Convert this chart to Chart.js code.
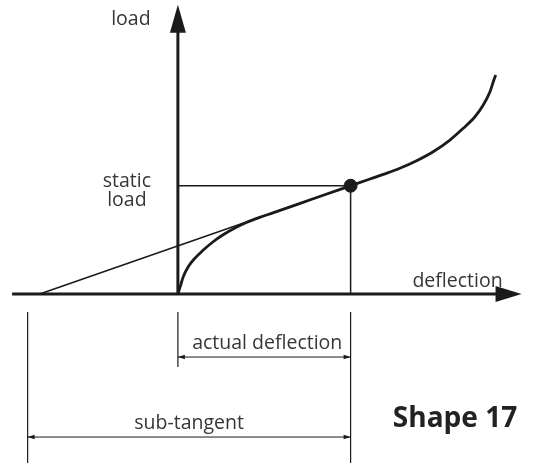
<!DOCTYPE html>
<html lang="en">
<head>
  <meta charset="UTF-8">
  <title>Shape 17 - load / deflection</title>
  <script src="https://cdn.jsdelivr.net/npm/chart.js"></script>
  <style>
    html, body {
      margin: 0;
      padding: 0;
      background: #ffffff;
    }
    #chart-container {
      width: 538px;
      height: 463px;
      position: relative;
    }
  </style>
</head>
<body>

  <div id="chart-container">
    <canvas id="shapeChart"></canvas>
  </div>

  <script>
    // load-deflection curve (deflection units, load units)
    const curveDeflection = [0, 0.16, 0.31, 0.6, 0.98, 1.47, 2.04, 2.62, 3.3, 4.0, 4.7, 5.5, 7, 8.5, 10, 11.12, 11.89, 12.85, 13.82, 14.78, 15.75, 16.52, 17.2, 17.68, 18.07, 18.26, 18.4];
    const curveLoad       = [0, 0.83, 1.6, 2.52, 3.3, 4.06, 4.83, 5.47, 6.1, 6.63, 7.06, 7.5, 8.33, 9.17, 10, 10.62, 11.05, 11.61, 12.31, 13.14, 14.22, 15.3, 16.37, 17.45, 18.68, 19.6, 20.22];

    // operating point
    const staticDeflection = 10;
    const staticLoad = 10;

    // tangent through the operating point meets the deflection axis here
    const tangentIntercept = -8;
    // where the sub-tangent dimension starts
    const subTangentStart = -8.7;

    // axis extents
    const xAxisStart = -9.6;
    const xAxisEnd = 19.9;
    const yAxisEnd = 26.7;

    // view window
    const xMin = -10.3, xMax = 20.85;
    const yMin = -15.6, yMax = 27.15;

    const labels = ['load', 'static', 'load', 'deflection', 'actual deflection', 'sub-tangent', 'Shape 17'];

    const INK = '#1b1b1b';
    const TEXT = '#363636';

    const curveData = curveDeflection.map((x, i) => ({ x: x, y: curveLoad[i] }));

    // arrows, dimension lines and labels, placed with the chart scales
    const annotations = {
      id: 'annotations',
      afterDatasetsDraw(chart) {
        const ctx = chart.ctx;
        const xs = chart.scales.x;
        const ys = chart.scales.y;
        const px = v => xs.getPixelForValue(v);
        const py = v => ys.getPixelForValue(v);

        ctx.save();
        ctx.fillStyle = INK;
        ctx.strokeStyle = INK;

        // axis arrowheads
        const ox = px(0), oy = py(0);
        const tipY = py(yAxisEnd);
        ctx.beginPath();
        ctx.moveTo(ox, tipY);
        ctx.lineTo(ox - 8, tipY + 28);
        ctx.lineTo(ox + 8, tipY + 28);
        ctx.closePath();
        ctx.fill();

        const tipX = px(xAxisEnd);
        ctx.beginPath();
        ctx.moveTo(tipX, oy);
        ctx.lineTo(tipX - 26, oy - 8);
        ctx.lineTo(tipX - 26, oy + 8);
        ctx.closePath();
        ctx.fill();

        // dimension extension lines
        const xSub = px(subTangentStart);
        const xZero = px(0);
        const xStat = px(staticDeflection);
        const extTop = oy + 18;
        const bottom = chart.height;
        ctx.lineWidth = 1.2;
        ctx.beginPath();
        ctx.moveTo(xSub, extTop); ctx.lineTo(xSub, bottom);
        ctx.moveTo(xStat, extTop); ctx.lineTo(xStat, bottom);
        ctx.moveTo(xZero, extTop); ctx.lineTo(xZero, oy + 73);
        ctx.stroke();

        function dimArrow(x1, x2, y) {
          ctx.lineWidth = 1;
          ctx.beginPath();
          ctx.moveTo(x1, y); ctx.lineTo(x2, y);
          ctx.stroke();
          ctx.beginPath();
          ctx.moveTo(x1, y); ctx.lineTo(x1 + 7, y - 2.2); ctx.lineTo(x1 + 7, y + 2.2);
          ctx.closePath();
          ctx.fill();
          ctx.beginPath();
          ctx.moveTo(x2, y); ctx.lineTo(x2 - 7, y - 2.2); ctx.lineTo(x2 - 7, y + 2.2);
          ctx.closePath();
          ctx.fill();
        }
        dimArrow(xZero, xStat, oy + 63);
        dimArrow(xSub, xStat, oy + 143);

        // labels
        ctx.fillStyle = TEXT;
        ctx.font = '19.5px "Open Sans", sans-serif';
        ctx.textBaseline = 'alphabetic';
        ctx.textAlign = 'center';
        ctx.fillText(labels[0], ox - 47, py(yAxisEnd) + 20);
        ctx.fillText(labels[1], ox - 51, py(staticLoad) + 1);
        ctx.fillText(labels[2], ox - 51, py(staticLoad) + 20);
        ctx.fillText(labels[4], (xZero + xStat) / 2 + 3, oy + 55);
        ctx.fillText(labels[5], (xSub + xStat) / 2, oy + 135);
        ctx.textAlign = 'right';
        ctx.fillText(labels[3], tipX - 19, oy - 7);

        ctx.fillStyle = '#222222';
        ctx.font = 'bold 28px "Open Sans", sans-serif';
        ctx.textAlign = 'center';
        ctx.fillText(labels[6], 455, oy + 133);
        ctx.restore();
      }
    };

    const ctx = document.getElementById('shapeChart').getContext('2d');
    new Chart(ctx, {
      type: 'scatter',
      data: {
        datasets: [
          {
            label: 'deflection axis',
            data: [{ x: xAxisStart, y: 0 }, { x: xAxisEnd - 1, y: 0 }],
            showLine: true,
            borderColor: INK,
            borderWidth: 3,
            pointRadius: 0
          },
          {
            label: 'load axis',
            data: [{ x: 0, y: 0 }, { x: 0, y: yAxisEnd - 1.5 }],
            showLine: true,
            borderColor: INK,
            borderWidth: 3,
            pointRadius: 0
          },
          {
            label: 'static load guide',
            data: [{ x: 0, y: staticLoad }, { x: staticDeflection, y: staticLoad }, { x: staticDeflection, y: 0 }],
            showLine: true,
            borderColor: INK,
            borderWidth: 1.5,
            pointRadius: 0
          },
          {
            label: 'tangent',
            data: [{ x: tangentIntercept, y: 0 }, { x: staticDeflection, y: staticLoad }],
            showLine: true,
            borderColor: INK,
            borderWidth: 1.6,
            pointRadius: 0
          },
          {
            label: 'load-deflection curve',
            data: curveData,
            showLine: true,
            borderColor: INK,
            borderWidth: 2.8,
            cubicInterpolationMode: 'monotone',
            pointRadius: 0
          },
          {
            label: 'operating point',
            data: [{ x: staticDeflection, y: staticLoad }],
            backgroundColor: INK,
            borderColor: INK,
            pointRadius: 6.5
          }
        ]
      },
      options: {
        responsive: true,
        maintainAspectRatio: false,
        animation: false,
        layout: { padding: 0, autoPadding: false },
        scales: {
          x: { type: 'linear', min: xMin, max: xMax, display: false },
          y: { type: 'linear', min: yMin, max: yMax, display: false }
        },
        plugins: {
          legend: { display: false },
          tooltip: { enabled: false }
        }
      },
      plugins: [annotations]
    });
  </script>

</body>
</html>
